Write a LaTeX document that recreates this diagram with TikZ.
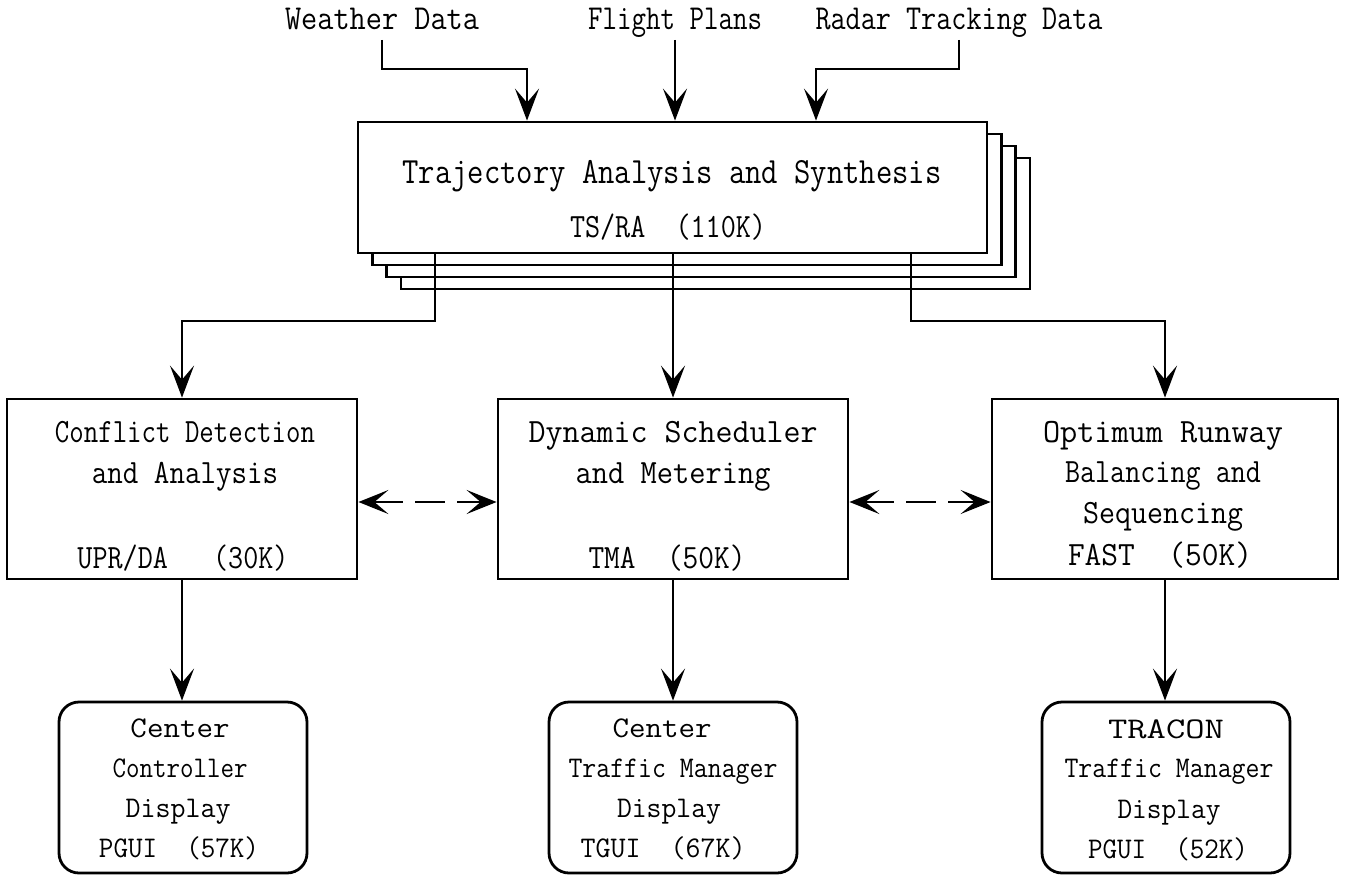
\documentclass[tikz,border=0pt]{standalone}
\usepackage{fontspec}
\usepackage{graphicx}
\usetikzlibrary{arrows.meta}
\newcommand\cour{\ttfamily}
\newcommand\tx[2]{\resizebox{#1pt}{\height}{#2}}
\begin{document}
\begin{tikzpicture}[x=1pt,y=-1pt,
  box/.style={draw, line width=2.8pt, fill=white, inner sep=0pt},
  disp/.style={draw, line width=2.8pt, rounded corners=20pt, inner sep=0pt, minimum width=248pt, minimum height=171pt},
  midbox/.style={box, minimum width=350pt, minimum height=180pt},
  lbl/.style={inner sep=0pt, outer sep=0pt, anchor=base, text depth=0pt, font=\cour\fontsize{35}{40}\selectfont},
  ttl/.style={inner sep=0pt, anchor=base, font=\cour\fontsize{37}{44}\selectfont},
  mtx/.style={inner sep=0pt, anchor=base, font=\cour\fontsize{34}{40}\selectfont},
  dtx/.style={inner sep=0pt, anchor=base, font=\cour\fontsize{30}{36}\selectfont},
  conn/.style={line width=2.4pt, -{Stealth[length=32pt,width=24pt,inset=14pt]}},
  dconn/.style={line width=2.4pt, dash pattern=on 30pt off 12pt,
     {Stealth[length=30pt,width=24pt,inset=14pt]}-{Stealth[length=30pt,width=24pt,inset=14pt]}},
]
\useasboundingbox (0,0) rectangle (1346,875);

% input labels
\node[lbl] (wd) at (382,30) {\tx{194}{Weather Data}};
\node[lbl] (fp) at (675,30) {\tx{174}{Flight Plans}};
\node[lbl] (rd) at (959,30) {\tx{287}{Radar Tracking Data}};

% stacked trajectory box
\node[box, minimum width=629pt, minimum height=131pt] (ts3) at (715.4,223.5) {};
\node[box, minimum width=629pt, minimum height=131pt] (ts2) at (701.1,211.5) {};
\node[box, minimum width=629pt, minimum height=131pt] (ts1) at (686.8,199.5) {};
\node[box, minimum width=629pt, minimum height=131pt] (ts) at (672.5,187.5) {};
\node[ttl] (tst1) at (672,183) {\tx{539}{Trajectory Analysis and Synthesis}};
\node[ttl, font=\cour\fontsize{34}{40}\selectfont] (tst2) at (668,237) {\tx{196}{TS/RA\ \ (110K)}};

% middle boxes
\node[midbox] (b1) at (182,489) {};
\node[midbox] (b2) at (673,489) {};
\node[midbox, minimum width=346pt] (b3) at (1165,489) {};

\node[mtx] (b1a) at (185,442) {\tx{260}{Conflict Detection}};
\node[mtx] (b1b) at (185,483) {\tx{186}{and Analysis}};
\node[mtx] (b1c) at (183,568) {\tx{211}{UPR/DA\ \ \ (30K)}};

\node[mtx] (b2a) at (673,442) {\tx{289}{Dynamic Scheduler}};
\node[mtx] (b2b) at (673,483) {\tx{195}{and Metering}};
\node[mtx] (b2c) at (667,568) {\tx{157}{TMA\ \ (50K)}};

\node[mtx] (b3a) at (1163,442) {\tx{240}{Optimum Runway}};
\node[mtx] (b3b) at (1163,482) {\tx{196}{Balancing and}};
\node[mtx] (b3c) at (1163,523) {\tx{160}{Sequencing}};
\node[mtx] (b3d) at (1160,565) {\tx{184}{FAST\ \ (50K)}};

% display boxes
\node[disp] (d1) at (183,787.5) {};
\node[disp] (d2) at (673,787.5) {};
\node[disp] (d3) at (1166,787.5) {};

\node[dtx] (d1a) at (180,737) {\tx{99}{Center}};
\node[dtx] (d1b) at (180,777) {\tx{135}{Controller}};
\node[dtx] (d1c) at (178,817) {\tx{105}{Display}};
\node[dtx] (d1d) at (179,857) {\tx{160}{PGUI\ \ (57K)}};

\node[dtx] (d2a) at (662,737) {\tx{99}{Center}};
\node[dtx] (d2b) at (673,777) {\tx{209}{Traffic Manager}};
\node[dtx] (d2c) at (669,817) {\tx{104}{Display}};
\node[dtx] (d2d) at (663,857) {\tx{165}{TGUI\ \ (67K)}};

\node[dtx] (d3a) at (1166,738) {\tx{116}{TRACON}};
\node[dtx] (d3b) at (1169,777) {\tx{209}{Traffic Manager}};
\node[dtx] (d3c) at (1169,818) {\tx{103}{Display}};
\node[dtx] (d3d) at (1168,858) {\tx{160}{PGUI\ \ (52K)}};

% connectors
\coordinate (eW) at (527,69);
\coordinate (eR) at (816,69);
\draw[conn, shorten <=10pt] (wd.south) |- (eW) -- (eW |- ts.north);
\draw[conn, shorten <=10pt] (fp.south) -- (fp.south |- ts.north);
\draw[conn, shorten <=10pt] (rd.south) |- (eR) -- (eR |- ts.north);

\coordinate (oL) at (435,321);
\coordinate (oR) at (911,321);
\draw[conn] (oL |- ts.south) -- (oL) -| (b1.north);
\draw[conn] (b2.north |- ts.south) -- (b2.north);
\draw[conn] (oR |- ts.south) -- (oR) -| (b3.north);

\draw[conn] (b1.south) -- (b1.south |- d1.north);
\draw[conn] (b2.south) -- (d2.north);
\draw[conn] (b3.south) -- (b3.south |- d3.north);

\coordinate (dy) at (0,502);
\draw[dconn] (b1.east |- dy) -- (b2.west |- dy);
\draw[dconn] (b2.east |- dy) -- (b3.west |- dy);
\end{tikzpicture}
\end{document}
